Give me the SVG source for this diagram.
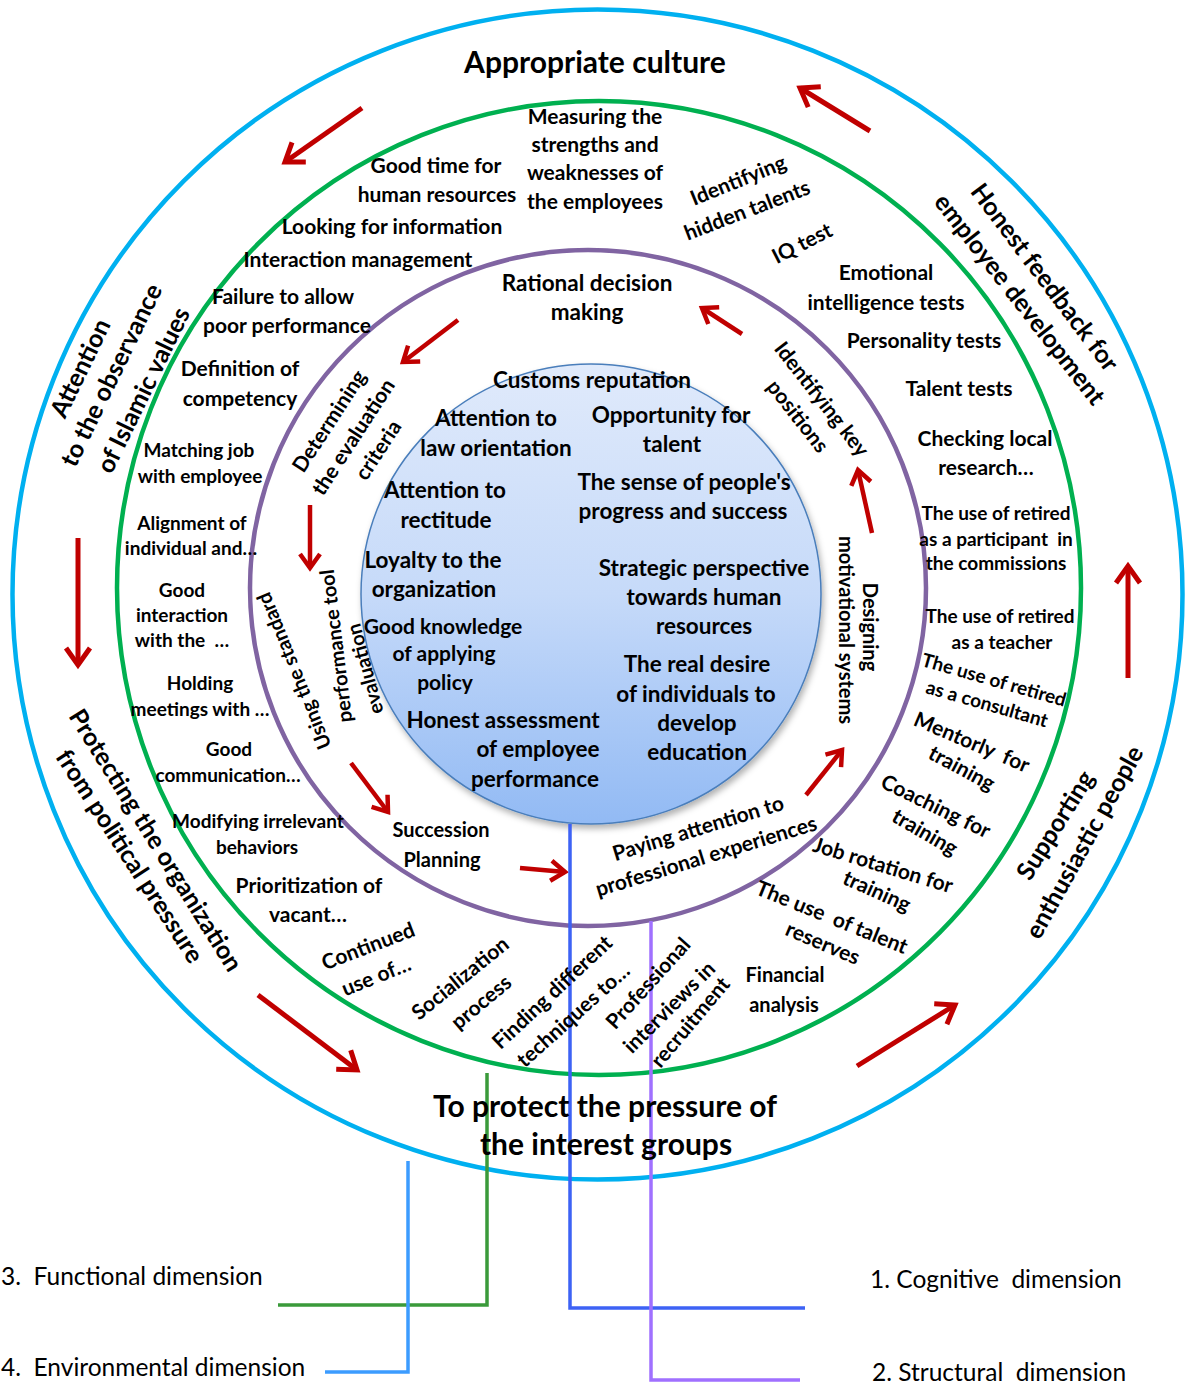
<svg xmlns="http://www.w3.org/2000/svg" width="1187" height="1385" viewBox="0 0 1187 1385">
<defs>
<style>
.t{font-family:Lato,"Liberation Sans",sans-serif;font-weight:700;text-anchor:middle;fill:#000}
.f19{font-size:19px}.f20{font-size:20px}.f21{font-size:21px}.f22{font-size:22.5px}.f25{font-size:25px}.f30{font-size:30px}
.dim{font-family:Lato,"Liberation Sans",sans-serif;font-weight:400;font-size:24.5px;fill:#000;white-space:pre}
.ring{fill:none;stroke-width:4.5}
.arr{fill:none;stroke:#C00000;stroke-width:5}
.arr2{fill:none;stroke:#C00000;stroke-width:4.5}
.dl{fill:none;stroke-width:3.5}
</style>
<linearGradient id="ig" x1="0" y1="0" x2="0" y2="1">
<stop offset="0" stop-color="#E0EAFB"/>
<stop offset="0.5" stop-color="#C6DAF9"/>
<stop offset="1" stop-color="#92BAF4"/>
</linearGradient>
<filter id="sh" x="-10%" y="-10%" width="125%" height="125%">
<feDropShadow dx="2" dy="4" stdDeviation="3" flood-color="#000" flood-opacity="0.3"/>
</filter>
<marker id="ah" markerUnits="userSpaceOnUse" viewBox="-25 -15 30 30" markerWidth="30" markerHeight="30" refX="0" refY="0" orient="auto" overflow="visible">
<path d="M-17,-12 L0,0 L-17,12" fill="none" stroke="#C00000" stroke-width="5"/>
</marker>
<marker id="ah2" markerUnits="userSpaceOnUse" viewBox="-25 -15 30 30" markerWidth="30" markerHeight="30" refX="0" refY="0" orient="auto" overflow="visible">
<path d="M-14,-10 L0,0 L-14,10" fill="none" stroke="#C00000" stroke-width="4.5"/>
</marker>
</defs>
<rect width="1187" height="1385" fill="#fff"/>

<g id="rings">
<circle id="outer-ring" class="ring" cx="597.5" cy="594.5" r="585" stroke="#00B0F0"/>
<ellipse id="green-ring" class="ring" cx="599" cy="588" rx="482" ry="487" stroke="#00B050"/>
<circle id="purple-ring" class="ring" cx="588" cy="588" r="338" stroke="#8064A2"/>
<circle id="inner-circle" cx="591" cy="594" r="230" fill="url(#ig)" stroke="#4A7EBB" stroke-width="1.5" filter="url(#sh)"/>
</g>

<g id="connectors">
<path class="arr" marker-end="url(#ah)" d="M362,108 L285,162"/>
<path class="arr" marker-end="url(#ah)" d="M870,131 L800,88"/>
<path class="arr" marker-end="url(#ah)" d="M78,538 L78,665"/>
<path class="arr" marker-end="url(#ah)" d="M1128,678 L1128,566"/>
<path class="arr" marker-end="url(#ah)" d="M258,995 L357,1070"/>
<path class="arr" marker-end="url(#ah)" d="M857,1066 L955,1005"/>
<path class="arr2" marker-end="url(#ah2)" d="M458,320 L403,362"/>
<path class="arr2" marker-end="url(#ah2)" d="M742,334 L702,308"/>
<path class="arr2" marker-end="url(#ah2)" d="M310,505 L310,568"/>
<path class="arr2" marker-end="url(#ah2)" d="M351,763 L388,812"/>
<path class="arr2" marker-end="url(#ah2)" d="M520,868 L565,872"/>
<path class="arr2" marker-end="url(#ah2)" d="M806,795 L842,750"/>
<path class="arr2" marker-end="url(#ah2)" d="M872,533 L858,470"/>
<path class="dl" stroke="#3D62F5" d="M570,824 V1308 H805"/>
<path class="dl" stroke="#A070FF" d="M651,921 V1380 H800"/>
<path class="dl" stroke="#3A9A3A" d="M487,1073 V1305 H278"/>
<path class="dl" stroke="#3C9CFF" d="M408,1161 V1372 H325"/>
</g>

<g id="outer-labels">
<g id="appropriate-culture"><text class="t f30" x="595" y="73">Appropriate culture</text></g>
<g id="protect-interest-groups"><text class="t f30" x="605" y="1117">To protect the pressure of</text><text class="t f30" x="606" y="1155">the interest groups</text></g>
<g id="islamic-values">
<text class="t f25" transform="translate(80,368) rotate(-64)" y="9">Attention</text>
<text class="t f25" transform="translate(111,375) rotate(-64)" y="9">to the observance</text>
<text class="t f25" transform="translate(143,390) rotate(-64)" y="9">of Islamic values</text>
</g>
<g id="honest-feedback">
<text class="t f25" transform="translate(1045,277) rotate(53)" y="9">Honest feedback for</text>
<text class="t f25" transform="translate(1020,299) rotate(52)" y="9">employee development</text>
</g>
<g id="political-pressure">
<text class="t f25" transform="translate(156,840) rotate(58)" y="9">Protecting the organization</text>
<text class="t f25" transform="translate(130,856) rotate(57)" y="9">from political pressure</text>
</g>
<g id="enthusiastic-people">
<text class="t f25" transform="translate(1055,825) rotate(-58)" y="9">Supporting</text>
<text class="t f25" transform="translate(1084,842) rotate(-61)" y="9">enthusiastic people</text>
</g>
</g>

<g id="functional-ring">
<g id="measuring"><text class="t f21" x="595" y="124">Measuring the</text><text class="t f21" x="595" y="152">strengths and</text><text class="t f21" x="595" y="180">weaknesses of</text><text class="t f21" x="595" y="209">the employees</text></g>
<g id="good-time"><text class="t f21" x="436" y="173">Good time for</text><text class="t f21" x="437" y="202">human resources</text></g>
<g id="looking"><text class="t f21" x="392" y="234">Looking for information</text></g>
<g id="interaction-mgmt"><text class="t f21" x="358" y="267">Interaction management</text></g>
<g id="failure"><text class="t f21" x="283" y="304">Failure to allow</text><text class="t f21" x="287" y="333">poor performance</text></g>
<g id="definition"><text class="t f21" x="240" y="376">Definition of</text><text class="t f21" x="240" y="406">competency</text></g>
<g id="matching"><text class="t f19" x="199" y="457">Matching job</text><text class="t f19" x="200" y="483">with employee</text></g>
<g id="alignment"><text class="t f19" x="192" y="530">Alignment of</text><text class="t f19" x="191" y="555">individual and…</text></g>
<g id="good-interaction"><text class="t f19" x="182" y="597">Good</text><text class="t f19" x="182" y="622">interaction</text><text class="t f19" x="182" y="647" style="white-space:pre">with the  …</text></g>
<g id="holding"><text class="t f19" x="200" y="690">Holding</text><text class="t f19" x="200" y="716">meetings with …</text></g>
<g id="good-communication"><text class="t f19" x="229" y="756">Good</text><text class="t f19" x="228" y="782">communication…</text></g>
<g id="modifying"><text class="t f19" x="258" y="828">Modifying irrelevant</text><text class="t f19" x="257" y="854">behaviors</text></g>
<g id="prioritization"><text class="t f21" x="309" y="893">Prioritization of</text><text class="t f21" x="308" y="922">vacant…</text></g>
<g id="continued">
<text class="t f21" transform="translate(368,946) rotate(-21)" y="7.5">Continued</text>
<text class="t f21" transform="translate(376,976) rotate(-22)" y="7.5">use of…</text>
</g>
<g id="socialization">
<text class="t f21" transform="translate(460,978) rotate(-39)" y="7.5">Socialization</text>
<text class="t f21" transform="translate(481,1002) rotate(-40)" y="7.5">process</text>
</g>
<g id="finding">
<text class="t f21" transform="translate(552,992) rotate(-43)" y="7.5">Finding different</text>
<text class="t f21" transform="translate(573,1015) rotate(-42)" y="7.5">techniques to…</text>
</g>
<g id="professional-interviews">
<text class="t f21" transform="translate(648,983) rotate(-48)" y="7.5">Professional</text>
<text class="t f21" transform="translate(669,1007) rotate(-45)" y="7.5">interviews in</text>
<text class="t f21" transform="translate(690,1022) rotate(-50)" y="7.5">recruitment</text>
</g>
<g id="financial"><text class="t f20" x="785" y="982">Financial</text><text class="t f20" x="784" y="1012">analysis</text></g>
<g id="talent-reserves">
<text class="t f21" transform="translate(832,917) rotate(22)" y="7.5" style="white-space:pre">The use  of talent</text>
<text class="t f21" transform="translate(823,943) rotate(23)" y="7.5">reserves</text>
</g>
<g id="job-rotation">
<text class="t f21" transform="translate(883,865) rotate(17)" y="7.5">Job rotation for</text>
<text class="t f21" transform="translate(877,891) rotate(24)" y="7.5">training</text>
</g>
<g id="coaching">
<text class="t f21" transform="translate(936,806) rotate(26)" y="7.5">Coaching for</text>
<text class="t f21" transform="translate(925,832) rotate(30)" y="7.5">training</text>
</g>
<g id="mentorly">
<text class="t f21" transform="translate(972,742) rotate(23)" y="7.5" style="white-space:pre">Mentorly  for</text>
<text class="t f21" transform="translate(962,768) rotate(28)" y="7.5">training</text>
</g>
<g id="retired-consultant">
<text class="t f19" transform="translate(994,680) rotate(16)" y="6.5">The use of retired</text>
<text class="t f19" transform="translate(987,704) rotate(16)" y="6.5">as a consultant</text>
</g>
<g id="retired-teacher"><text class="t f19" x="1000" y="623">The use of retired</text><text class="t f19" x="1002" y="649">as a teacher</text></g>
<g id="retired-commissions"><text class="t f19" x="996" y="520">The use of retired</text><text class="t f19" x="996" y="546" style="white-space:pre">as a participant  in</text><text class="t f19" x="996" y="570">the commissions</text></g>
<g id="checking"><text class="t f21" x="985" y="446">Checking local</text><text class="t f21" x="986" y="475">research…</text></g>
<g id="talent-tests"><text class="t f21" x="959" y="396">Talent tests</text></g>
<g id="personality-tests"><text class="t f21" x="924" y="348">Personality tests</text></g>
<g id="emotional"><text class="t f21" x="886" y="280">Emotional</text><text class="t f21" x="886" y="310">intelligence tests</text></g>
<g id="iq-test"><text class="t f21" transform="translate(802,243) rotate(-27)" y="7.5">IQ test</text></g>
<g id="hidden-talents">
<text class="t f21" transform="translate(738,180) rotate(-22)" y="7.5">Identifying</text>
<text class="t f21" transform="translate(747,210) rotate(-21)" y="7.5">hidden talents</text>
</g>
</g>

<g id="structural-ring">
<g id="rational"><text class="t f22" x="587" y="291">Rational decision</text><text class="t f22" x="587" y="320">making</text></g>
<g id="determining">
<text class="t f21" transform="translate(329,421) rotate(-57)" y="7.5">Determining</text>
<text class="t f21" transform="translate(353,437) rotate(-57)" y="7.5">the evaluation</text>
<text class="t f21" transform="translate(378,450) rotate(-57)" y="7.5">criteria</text>
</g>
<g id="identifying-key">
<text class="t f21" transform="translate(822,399) rotate(52)" y="7.5">Identifying key</text>
<text class="t f21" transform="translate(798,416) rotate(52)" y="7.5">positions</text>
</g>
<g id="designing">
<text class="t f20" transform="translate(870,627) rotate(90)" y="7">Designing</text>
<text class="t f20" transform="translate(846,630) rotate(90)" y="7">motivational systems</text>
</g>
<g id="standard-tool">
<text class="t f20" transform="translate(294,671) rotate(-112)" y="7">Using the standard</text>
<text class="t f20" transform="translate(336,646) rotate(-97)" y="7">performance tool</text>
<text class="t f20" transform="translate(365,669) rotate(-105)" y="7">evaluation</text>
</g>
<g id="succession"><text class="t f20" x="441" y="837">Succession</text><text class="t f20" x="442" y="867">Planning</text></g>
<g id="professional-experiences">
<text class="t f21" transform="translate(698,828) rotate(-17)" y="7.5">Paying attention to</text>
<text class="t f21" transform="translate(706,856) rotate(-17)" y="7.5">professional experiences</text>
</g>
</g>

<g id="cognitive-core">
<g id="customs"><text class="t f22" x="592" y="388">Customs reputation</text></g>
<g id="law"><text class="t f22" x="496" y="426">Attention to</text><text class="t f22" x="496" y="456">law orientation</text></g>
<g id="opportunity"><text class="t f22" x="671" y="423">Opportunity for</text><text class="t f22" x="672" y="452">talent</text></g>
<g id="sense"><text class="t f22" x="684" y="490">The sense of people's</text><text class="t f22" x="683" y="519">progress and success</text></g>
<g id="rectitude"><text class="t f22" x="445" y="498">Attention to</text><text class="t f22" x="446" y="528">rectitude</text></g>
<g id="loyalty"><text class="t f22" x="433" y="568">Loyalty to the</text><text class="t f22" x="434" y="597">organization</text></g>
<g id="strategic"><text class="t f22" x="704" y="576">Strategic perspective</text><text class="t f22" x="704" y="605">towards human</text><text class="t f22" x="704" y="634">resources</text></g>
<g id="knowledge"><text class="t f21" x="443" y="634">Good knowledge</text><text class="t f21" x="444" y="661">of applying</text><text class="t f21" x="445" y="690">policy</text></g>
<g id="desire"><text class="t f22" x="697" y="672">The real desire</text><text class="t f22" x="696" y="702">of individuals to</text><text class="t f22" x="697" y="731">develop</text><text class="t f22" x="697" y="760">education</text></g>
<g id="honest-assessment"><text class="t f22" x="503" y="728">Honest assessment</text><text class="t f22" x="538" y="757">of employee</text><text class="t f22" x="535" y="787">performance</text></g>
</g>

<g id="dimension-labels">
<g id="cognitive-dimension"><text class="dim" x="870" y="1288">1. Cognitive  dimension</text></g>
<g id="structural-dimension"><text class="dim" x="872" y="1381">2. Structural  dimension</text></g>
<g id="functional-dimension"><text class="dim" x="1" y="1285">3.  Functional dimension</text></g>
<g id="environmental-dimension"><text class="dim" x="1" y="1376">4.  Environmental dimension</text></g>
</g>
</svg>
